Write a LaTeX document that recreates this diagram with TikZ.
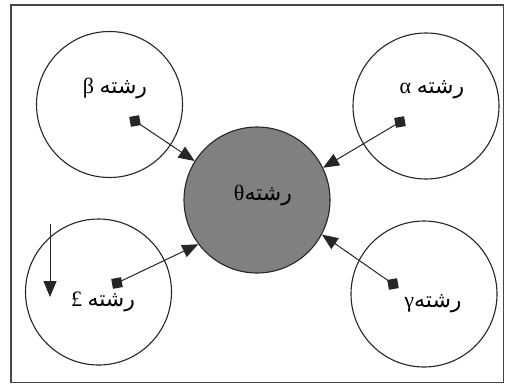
\documentclass[tikz,border=0pt]{standalone}
\usepackage{fontspec}
\setmainfont{Liberation Serif}
\newfontfamily\arabicfont[Script=Arabic]{DejaVu Sans}
\TeXXeTstate=1
\usetikzlibrary{arrows.meta}
\definecolor{midgray}{RGB}{128,128,128}
\definecolor{framegray}{RGB}{70,70,70}
\tikzset{
  ring/.style={draw=black!85, line width=1.1pt, circle, minimum size=146pt, inner sep=0pt, fill=white},
  hub/.style={ring, fill=midgray},
  sq/.style={fill=black!85, minimum size=10pt, inner sep=0pt, rotate=10},
  link/.style={line width=1pt, draw=black!85, -{Triangle[length=16pt,width=13pt]}},
  lbl/.style={font=\fontsize{22}{26}\selectfont, inner sep=1pt}
}
\begin{document}
\begin{tikzpicture}[x=1pt,y=-1pt]
\useasboundingbox (0,0) rectangle (505,386);
\draw[framegray, line width=1.3pt] (11,5) rectangle (503.5,382.5);
\node[ring] (B) at (109.5,104.5) {};
\node[ring] (A) at (426,106) {};
\node[ring] (L) at (98.5,292) {};
\node[ring] (G) at (424,294) {};
\node[hub] (C) at (257,200) {};
\node[lbl] (tB) at (115,88) {\beginR{\arabicfont رشته} β\endR};
\node[lbl] (tA) at (432,90) {\beginR{\arabicfont رشته} α\endR};
\node[lbl] (tC) at (263,195) {\beginR{\arabicfont رشته}θ\endR};
\node[lbl] (tL) at (103,302) {\beginR{\arabicfont رشته} £\endR};
\node[lbl] (tG) at (433,304) {\beginR{\arabicfont رشته}γ\endR};
\node[sq] (sB) at (135,121) {};
\node[sq] (sA) at (400,122) {};
\node[sq] (sL) at (117,283) {};
\node[sq] (sG) at (393,284) {};
\draw[link] (sB.center) -- (C.148);
\draw[link] (sA.center) -- (C.26);
\draw[link] (sL.center) -- (C.217);
\draw[link] (sG.center) -- (C.332);
\coordinate (d1) at (50,224);
\coordinate (d2) at (50,297);
\draw[link] (d1) -- (d2);
\end{tikzpicture}
\end{document}
